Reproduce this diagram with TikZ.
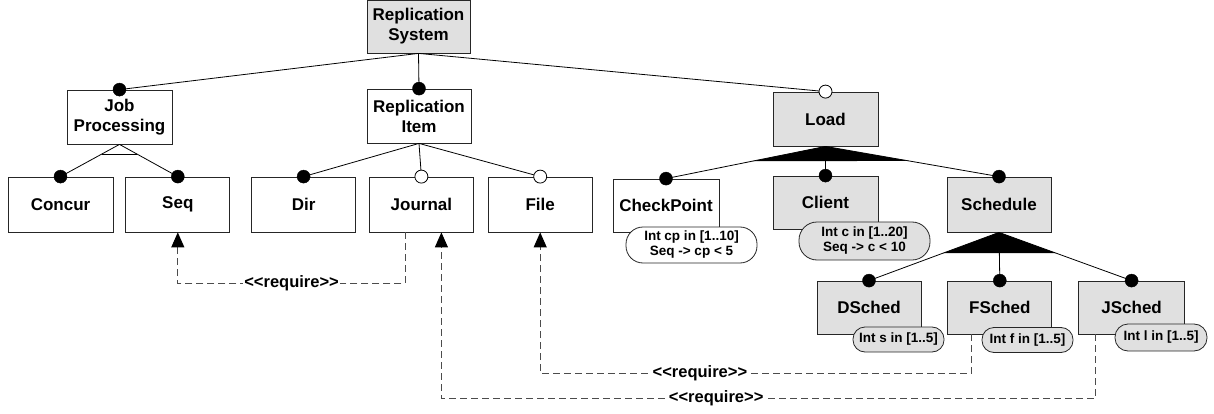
\documentclass[tikz,border=0pt]{standalone}
\usepackage{fontspec}
\setmainfont{Liberation Sans}
\usetikzlibrary{positioning,calc,arrows.meta}

\tikzset{
  feat/.style={rectangle, draw=black!85, line width=0.8pt, fill=white, minimum width=104pt, minimum height=54pt, align=center, inner sep=2pt, font=\bfseries\fontsize{17}{20}\selectfont},
  featg/.style={feat, fill=black!12},
  cons/.style={rectangle, rounded corners=12pt, draw=black!85, line width=0.8pt, fill=white, minimum width=91pt, minimum height=25pt, align=center, inner sep=2pt, font=\bfseries\fontsize{13.5}{15}\selectfont},
  consg/.style={cons, fill=black!12},
  mand/.style={circle, fill=black, draw=black, inner sep=0pt, minimum size=13pt},
  opt/.style={circle, fill=white, draw=black, line width=0.8pt, inner sep=0pt, minimum size=13pt},
  edge/.style={draw=black, line width=0.8pt},
  req/.style={draw=black!70, line width=1pt, dash pattern=on 7pt off 4pt, -{Triangle[length=15pt,width=13pt,color=black]}},
  reqlbl/.style={fill=white, inner sep=1pt, text=black, font=\bfseries\fontsize{16.5}{18}\selectfont}
}

\begin{document}
\begin{tikzpicture}[x=1pt, y=-1pt]
\useasboundingbox (0,0) rectangle (1214,414);

\node (rs) [featg, minimum width=103pt, minimum height=53pt] at (418.5,26.5) {Replication\\System};

\node (jp) [feat, minimum width=105pt] at (119.5,117) {Job\\Processing};
\node (ri) [feat] at (419,116) {Replication\\Item};
\node (load) [featg, minimum width=105pt] at (825.5,119) {Load};

\node (concur) [feat, minimum width=105pt, minimum height=55pt] at (60.5,204.5) {Concur};
\node (seq) [feat, minimum height=55pt, right=12pt of concur] {Seq};
\node (dir) [feat, minimum height=55pt, right=21pt of seq] {Dir};
\node (journal) [feat, minimum height=55pt, right=13pt of dir] {Journal};
\node (file) [feat, minimum height=55pt, right=14pt of journal] {File};

\node (cp) [feat, minimum width=106pt, minimum height=53pt] at (666,205.5) {CheckPoint};
\node (client) [featg, minimum width=105pt, minimum height=53pt] at (825.5,202.5) {Client};
\node (sched) [featg, minimum height=55pt] at (999,204.5) {Schedule};

\node (dsched) [featg, minimum height=53pt] at (869,307.5) {DSched};
\node (fsched) [featg, minimum height=53pt, right=26pt of dsched] {FSched};
\node (jsched) [featg, minimum width=106pt, minimum height=53pt, right=26pt of fsched] {JSched};

\node (cpc) [cons, minimum width=131pt, minimum height=36pt, rounded corners=17pt] at (691.5,245) {Int cp in [1..10]\\Seq -> cp < 5};
\node (clc) [consg, minimum width=131pt, minimum height=38pt, rounded corners=18pt] at (864.5,241) {Int c in [1..20]\\Seq -> c < 10};
\node (dsc) [consg] at (898.5,339.5) {Int s in [1..5]};
\node (fsc) [consg] at (1027.5,340) {Int f in [1..5]};
\node (jsc) [consg, minimum width=92pt, minimum height=27pt, rounded corners=13pt] at (1161,337.5) {Int l in [1..5]};

\foreach \n in {jp,ri,load} \draw[edge] (rs.south) -- (\n.north);
\foreach \n in {concur,seq} \draw[edge] (jp.south) -- (\n.north);
\foreach \n in {dir,journal,file} \draw[edge] (ri.south) -- (\n.north);
\foreach \n in {cp,client,sched} \draw[edge] (load.south) -- (\n.north);
\foreach \n in {dsched,fsched,jsched} \draw[edge] (sched.south) -- (\n.north);

\draw[edge] ($(jp.south)!0.3!(concur.north)$) -- ($(jp.south)!0.3!(seq.north)$);
\fill (load.south) -- ($(load.south)!0.46!(cp.north)$) -- ($(load.south)!0.48!(sched.north)$) -- cycle;
\fill (sched.south) -- ($(sched.south)!0.43!(dsched.north)$) -- ($(sched.south)!0.43!(jsched.north)$) -- cycle;

\foreach \n in {jp,ri,concur,seq,dir,cp,client,sched,dsched,fsched,jsched}
  \node (m-\n) [mand] at (\n.north) {};
\foreach \n in {journal,file,load}
  \node (o-\n) [opt] at (\n.north) {};

\draw[req] ($(journal.south)+(-16,0)$) -- ++(0,51) -| (seq.south)
  node[reqlbl, pos=0.25] (r1) {<\kern0pt<require>\kern0pt>};
\draw[req] ($(fsched.south)+(-28,0)$) -- ++(0,39) -| (file.south)
  node[reqlbl, pos=0.315] (r2) {<\kern0pt<require>\kern0pt>};
\draw[req] ($(jsched.south)+(-36,0)$) -- ++(0,64) -| ($(journal.south)+(20,0)$)
  node[reqlbl, pos=0.29] (r3) {<\kern0pt<require>\kern0pt>};

\end{tikzpicture}
\end{document}
